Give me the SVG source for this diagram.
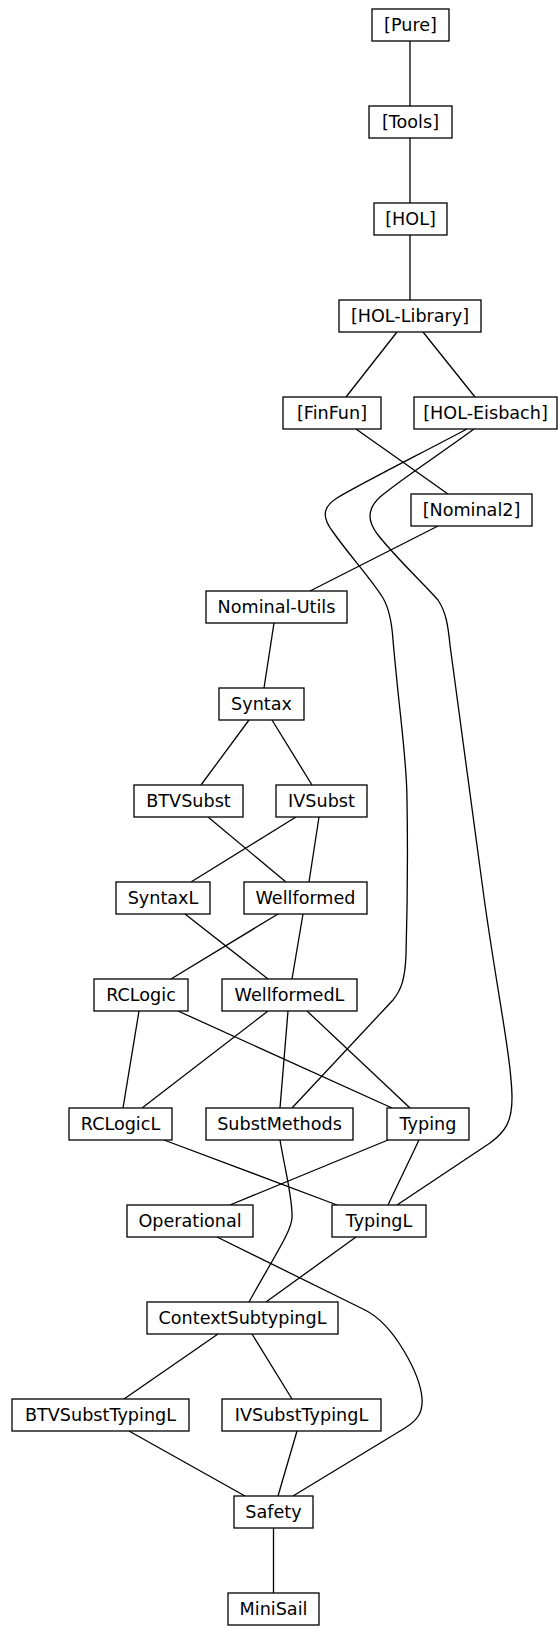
<svg xmlns="http://www.w3.org/2000/svg" width="558" height="1626" viewBox="0 0 558 1626">
<style>
rect{fill:#fff;stroke:#000;stroke-width:1.3}
text{font-family:"DejaVu Sans",sans-serif;font-size:17.6px;text-anchor:middle;fill:#000}
#edges path,#edges line{stroke:#000;stroke-width:1.3;fill:none}
</style>
<rect x="0" y="0" width="558" height="1626" style="stroke:none"/>
<g id="edges">
<line x1="410" y1="41" x2="410" y2="106"/>
<line x1="410" y1="138" x2="410" y2="203"/>
<line x1="410" y1="235" x2="410" y2="300"/>
<line x1="397" y1="332" x2="346" y2="397"/>
<line x1="423" y1="332" x2="475" y2="397"/>
<line x1="356" y1="429" x2="448" y2="494"/>
<path d="M467,429 C420,454 360,484 337,498 C321,508 323,519 333,532 C350,556 372,580 383,598 C390,610 392,625 393,640 C400,720 407,760 407,800 C408,860 407,920 406,955 C405,980 401,990 393,1000 L292,1108"/>
<path d="M474,429 C440,454 400,480 380,497 C366,510 368,522 378,535 C398,560 425,585 438,600 C446,612 448,625 450,645 L483,890 C495,980 512,1060 512,1098 C512,1122 505,1132 490,1143 L397,1205"/>
<line x1="438" y1="526" x2="310" y2="591"/>
<line x1="274" y1="623" x2="264" y2="688"/>
<line x1="249" y1="720" x2="201" y2="785"/>
<line x1="272" y1="720" x2="312" y2="785"/>
<line x1="208" y1="817" x2="286" y2="882"/>
<line x1="296" y1="817" x2="191" y2="882"/>
<line x1="319" y1="817" x2="309" y2="882"/>
<line x1="185" y1="914" x2="268" y2="979"/>
<line x1="278" y1="914" x2="171" y2="979"/>
<line x1="303" y1="914" x2="292" y2="979"/>
<line x1="139" y1="1011" x2="123" y2="1108"/>
<line x1="178" y1="1011" x2="392" y2="1108"/>
<line x1="268" y1="1011" x2="142" y2="1108"/>
<line x1="288" y1="1011" x2="280" y2="1108"/>
<line x1="307" y1="1011" x2="410" y2="1108"/>
<line x1="164" y1="1140" x2="337" y2="1205"/>
<line x1="388" y1="1140" x2="230" y2="1205"/>
<line x1="419" y1="1140" x2="388" y2="1205"/>
<path d="M280,1140 C285,1170 293,1200 292,1218 C291,1232 275,1255 249,1302"/>
<line x1="356" y1="1237" x2="266" y2="1302"/>
<path d="M217,1237 L365,1310 C395,1325 420,1375 422,1398 C423,1412 418,1420 405,1428 L293,1496"/>
<line x1="218" y1="1334" x2="124" y2="1399"/>
<line x1="252" y1="1334" x2="292" y2="1399"/>
<line x1="129" y1="1431" x2="245" y2="1496"/>
<line x1="297" y1="1431" x2="278" y2="1496"/>
<line x1="273.5" y1="1528" x2="273.5" y2="1593"/>
</g>
<g id="pure"><rect x="372" y="9" width="77" height="32"/><text x="410.5" y="31.4">[Pure]</text></g>
<g id="tools"><rect x="369" y="106" width="83" height="32"/><text x="410.5" y="128.4">[Tools]</text></g>
<g id="hol"><rect x="374" y="203" width="73" height="32"/><text x="410.5" y="225.4">[HOL]</text></g>
<g id="hol-library"><rect x="339" y="300" width="142" height="32"/><text x="410" y="322.4">[HOL-Library]</text></g>
<g id="finfun"><rect x="283" y="397" width="98" height="32"/><text x="332" y="419.4">[FinFun]</text></g>
<g id="hol-eisbach"><rect x="414" y="397" width="143" height="32"/><text x="485.5" y="419.4">[HOL-Eisbach]</text></g>
<g id="nominal2"><rect x="411" y="494" width="121" height="32"/><text x="471.5" y="516.4">[Nominal2]</text></g>
<g id="nominal-utils"><rect x="206" y="591" width="141" height="32"/><text x="276.5" y="613.4">Nominal-Utils</text></g>
<g id="syntax"><rect x="219" y="688" width="85" height="32"/><text x="261.5" y="710.4">Syntax</text></g>
<g id="btvsubst"><rect x="134" y="785" width="109" height="32"/><text x="188.5" y="807.4">BTVSubst</text></g>
<g id="ivsubst"><rect x="276" y="785" width="91" height="32"/><text x="321.5" y="807.4">IVSubst</text></g>
<g id="syntaxl"><rect x="116" y="882" width="94" height="32"/><text x="163" y="904.4">SyntaxL</text></g>
<g id="wellformed"><rect x="244" y="882" width="123" height="32"/><text x="305.5" y="904.4">Wellformed</text></g>
<g id="rclogic"><rect x="94" y="979" width="94" height="32"/><text x="141" y="1001.4">RCLogic</text></g>
<g id="wellformedl"><rect x="222" y="979" width="135" height="32"/><text x="289.5" y="1001.4">WellformedL</text></g>
<g id="rclogicl"><rect x="69" y="1108" width="103" height="32"/><text x="120.5" y="1130.4">RCLogicL</text></g>
<g id="substmethods"><rect x="206" y="1108" width="147" height="32"/><text x="279.5" y="1130.4">SubstMethods</text></g>
<g id="typing"><rect x="387" y="1108" width="82" height="32"/><text x="428" y="1130.4">Typing</text></g>
<g id="operational"><rect x="127" y="1205" width="126" height="32"/><text x="190" y="1227.4">Operational</text></g>
<g id="typingl"><rect x="332" y="1205" width="94" height="32"/><text x="379" y="1227.4">TypingL</text></g>
<g id="contextsubtypingl"><rect x="147" y="1302" width="191" height="32"/><text x="242.5" y="1324.4">ContextSubtypingL</text></g>
<g id="btvsubsttypingl"><rect x="12" y="1399" width="177" height="32"/><text x="100.5" y="1421.4">BTVSubstTypingL</text></g>
<g id="ivsubsttypingl"><rect x="222" y="1399" width="159" height="32"/><text x="301.5" y="1421.4">IVSubstTypingL</text></g>
<g id="safety"><rect x="234" y="1496" width="79" height="32"/><text x="273.5" y="1518.4">Safety</text></g>
<g id="minisail"><rect x="228" y="1593" width="91" height="32"/><text x="273.5" y="1615.4">MiniSail</text></g>
</svg>
